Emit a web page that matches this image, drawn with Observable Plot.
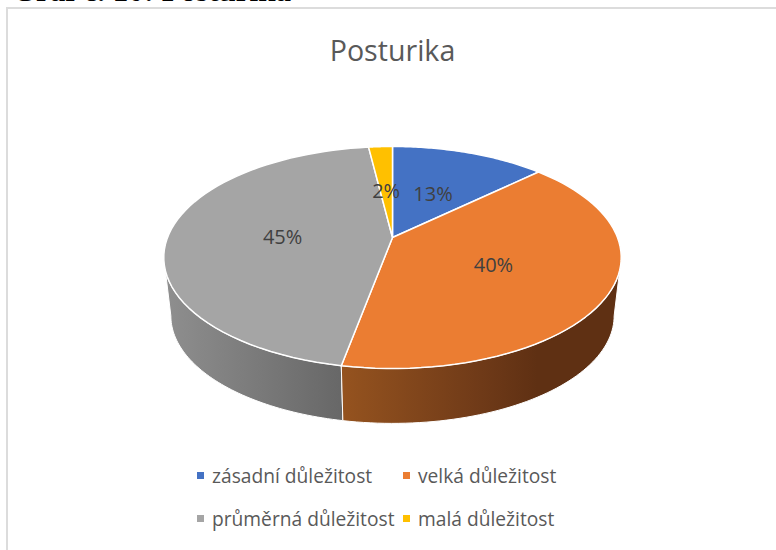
<!DOCTYPE html>
<html lang="cs">
<head>
<meta charset="utf-8">
<title>Posturika</title>
<script src="https://cdn.jsdelivr.net/npm/d3@7"></script>
<script src="https://cdn.jsdelivr.net/npm/@observablehq/plot@0.6"></script>
<style>
  html, body { margin: 0; padding: 0; background: #fff; }
  #page { position: relative; width: 776px; height: 550px; overflow: hidden; }
  #heading { position: absolute; left: 12px; top: -24px; font: bold 31px/30px "Liberation Serif", serif; color: #000; white-space: nowrap; }
  #box { position: absolute; left: 6px; top: 7px; width: 800px; height: 600px; border-left: 2px solid #dcdcdc; border-top: 2px solid #dcdcdc; }
  #title { position: absolute; left: 0; width: 785px; top: 30px; text-align: center; font: 28.6px "Open Sans", sans-serif; color: #595959; }
  #chart { position: absolute; left: 0; top: 130px; }
  .key { position: absolute; font: 19.2px "Open Sans", sans-serif; color: #595959; white-space: nowrap; line-height: 24px; }
  .key i { position: absolute; left: -15px; top: 8px; width: 7px; height: 7px; }
</style>
</head>
<body>
<div id="page">
  <div id="heading">Graf č. 10: Posturika</div>
  <div id="box"></div>
  <div id="title">Posturika</div>
  <div id="chart"></div>
  <div id="legend"></div>
</div>
<script>
const categories = ["zásadní důležitost", "velká důležitost", "průměrná důležitost", "malá důležitost"];
const shares = [13, 40, 45, 2];
const colors = ["#4472c4", "#eb7d32", "#a5a5a5", "#ffc000"];

// Tilted-disc projection: the far rim shrinks, the near rim grows.
const tilt = 0.18;
const project = (turn, radius = 1) => {
  const a = turn * 2 * Math.PI;
  const u = radius * Math.sin(a), v = radius * Math.cos(a);
  const w = 1 + tilt * v;
  return [u / w, v / w];
};
// The lower rim of the disc is a slightly smaller copy moved down.
const rimScale = 0.969, rimDrop = 0.549;
const lower = ([x, y]) => [x * rimScale, y * rimScale - rimDrop];

const turns = d => d3.range(0, 61).map(i => d[0] + (d[1] - d[0]) * i / 60);

const total = d3.sum(shares);
const cumulative = d3.cumsum(shares);
const slices = categories.map((category, i) => ({
  category,
  share: shares[i],
  start: (cumulative[i] - shares[i]) / total,
  end: cumulative[i] / total
}));

// Closed outline of a slice's top face.
const topFaces = slices.flatMap(s => {
  const rim = turns([s.start, s.end]).map(t => project(t));
  return [[0, 0], ...rim, [0, 0]].map(([x, y]) => ({x, y, category: s.category}));
});

// The silhouette of the disc sits where v = -tilt, on both sides.
const silhouetteLeft = 1 - Math.acos(-tilt) / (2 * Math.PI);
const silhouetteRight = Math.acos(-tilt) / (2 * Math.PI);

const wall = s => {
  const from = Math.max(s.start, silhouetteRight);
  const to = Math.min(s.end, silhouetteLeft);
  const arc = turns([from, to]).map(t => project(t));
  const outline = [...arc, ...arc.map(lower).reverse(), arc[0]];
  return outline.map(([x, y]) => ({x, y}));
};

const labels = slices.map(s => {
  const [x, y] = project((s.start + s.end) / 2, 0.49);
  return {x, y, text: `${s.share}%`};
});

// Shaded gradients for the two visible side walls.
const gradients = () => {
  const defs = d3.create("svg:defs");
  const add = (id, stops) => {
    const g = defs.append("linearGradient").attr("id", id);
    stops.forEach(([offset, color]) => g.append("stop").attr("offset", offset).attr("stop-color", color));
  };
  add("wall-orange", [[0, "#95531f"], [0.5, "#6f3a18"], [0.7, "#5f3013"], [1, "#5f3013"]]);
  add("wall-grey", [[0, "#8f8f8f"], [1, "#676767"]]);
  return defs.node();
};

const chart = Plot.plot({
  width: 776,
  height: 310,
  margin: 0,
  x: {axis: null, domain: [-1, 1], range: [167, 617]},
  y: {axis: null, domain: [-1, 1], range: [214.4, -0.4]},
  color: {domain: categories, range: colors},
  marks: [
    gradients,
    Plot.line(wall(slices[2]), {x: "x", y: "y", fill: "url(#wall-grey)", stroke: "white", strokeWidth: 1}),
    Plot.line(wall(slices[1]), {x: "x", y: "y", fill: "url(#wall-orange)", stroke: "white", strokeWidth: 1}),
    Plot.line(topFaces, {x: "x", y: "y", z: "category", fill: "category", stroke: "white", strokeWidth: 1.5, strokeLinejoin: "round"}),
    Plot.text(labels, {x: "x", y: "y", dy: 2, text: "text", fontSize: 20, fontFamily: "Open Sans", fill: "#404040"})
  ]
});
document.getElementById("chart").append(chart);

// Legend in two rows of two entries.
const legendPlaces = [[212, 464], [418, 464], [212, 507], [418, 507]];
const legend = document.getElementById("legend");
categories.forEach((category, i) => {
  const key = document.createElement("div");
  key.className = "key";
  key.style.left = legendPlaces[i][0] + "px";
  key.style.top = legendPlaces[i][1] + "px";
  const swatch = document.createElement("i");
  swatch.style.background = colors[i];
  key.append(swatch, category);
  legend.append(key);
});
</script>
</body>
</html>
